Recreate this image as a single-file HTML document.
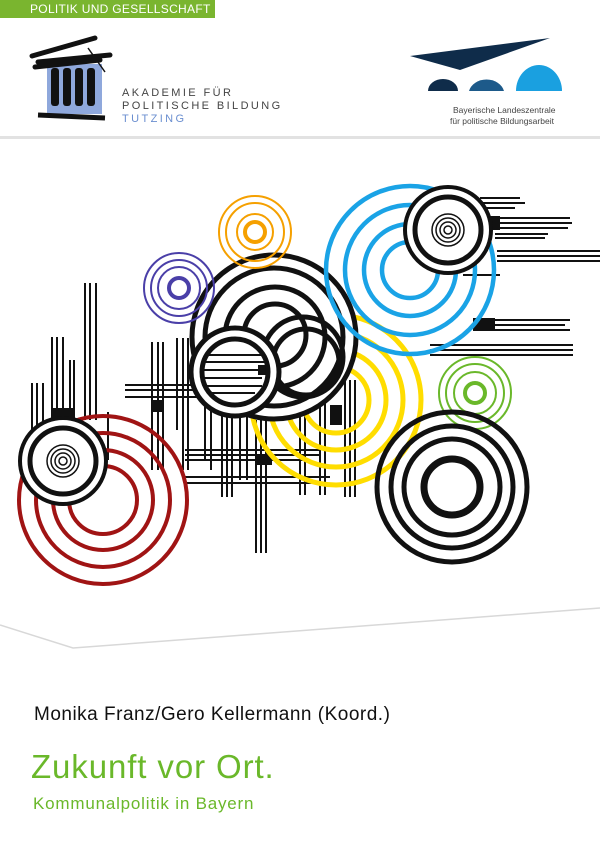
<!DOCTYPE html>
<html><head><meta charset="utf-8"><style>
html,body{margin:0;padding:0;background:#fff}
body{width:600px;height:860px;position:relative;overflow:hidden;font-family:"Liberation Sans",sans-serif}
.t{position:absolute;white-space:nowrap}
</style></head><body>
<div style="position:absolute;left:0;top:0;width:215px;height:18px;background:#7ab52f"></div>
<div class="t" style="left:30px;top:2px;font-size:12px;color:#fff;letter-spacing:0.3px">POLITIK UND GESELLSCHAFT</div>
<div style="position:absolute;left:0;top:136px;width:600px;height:3px;background:#e2e2e2"></div>
<svg width="600" height="860" style="position:absolute;left:0;top:0">
<rect x="47" y="64" width="55" height="50" fill="#8fa8dc"/>
<path d="M32 56 L95 38 M38 62 L110 55 M35 67 L100 60" stroke="#111" stroke-width="5" stroke-linecap="round"/>
<line x1="88" y1="48" x2="105" y2="72" stroke="#111" stroke-width="1.5"/>
<rect x="51" y="68" width="8" height="38" rx="3" fill="#111"/>
<rect x="63" y="68" width="8" height="38" rx="3" fill="#111"/>
<rect x="75" y="68" width="8" height="38" rx="3" fill="#111"/>
<rect x="87" y="68" width="8" height="38" rx="3" fill="#111"/>
<path d="M38 115 L105 118" stroke="#111" stroke-width="5"/>
<text x="122" y="96" font-size="11" fill="#444" letter-spacing="2.4" font-family="Liberation Sans">AKADEMIE FÜR</text>
<text x="122" y="109" font-size="11" fill="#444" letter-spacing="2.4" font-family="Liberation Sans">POLITISCHE BILDUNG</text>
<text x="122" y="122" font-size="11" fill="#6b8fd0" letter-spacing="2.4" font-family="Liberation Sans">TUTZING</text>
<polygon points="410,56 550,38 460,70" fill="#0f2c4a"/>
<path d="M428 91 A15 12 0 0 1 458 91 Z" fill="#0f2c4a"/>
<path d="M469 91 A18 15 0 0 1 504 91 Z" fill="#1d5a8a"/>
<path d="M516 91 A23 26 0 0 1 562 91 Z" fill="#1aa0e0"/>
<text x="453" y="113" font-size="8.5" fill="#444" font-family="Liberation Sans">Bayerische Landeszentrale</text>
<text x="450" y="124" font-size="8.5" fill="#444" font-family="Liberation Sans">für politische Bildungsarbeit</text>

<g stroke="#111" stroke-width="2">
<path d="M32 383V440M37 383V440M43 383V440M52 337V420M57 337V420M63 337V420M70 360V420M74 360V420M85 283V420M90 283V420M96 283V420M108 412V460"/>
<path d="M152 342V470M158 342V470M163 342V470M177 338V430M183 338V470M188 338V470M205 340V460M211 340V470"/>
<path d="M222 400V497M227 400V497M232 400V497M240 400V480M247 400V480M256 420V553M261 420V553M266 420V553M300 380V495M305 380V495M320 390V495M325 390V495M345 380V497M350 380V497M355 380V497"/>
<path d="M125 385H330M125 390H330M125 397H330M185 450H320M185 455H320M185 460H310M185 477H330M185 483H320"/>
<path d="M480 198H520M480 203H525M480 208H515M490 218H570M490 223H572M490 228H568M495 234H548M495 238H545M497 251H600M497 256H600M497 261H600M463 275H500M473 320H570M473 325H565M473 330H570M430 345H573M430 350H573M430 355H573"/>
</g>
<g fill="#111">
<rect x="152" y="400" width="12" height="12"/><rect x="205" y="390" width="10" height="15"/>
<rect x="52" y="408" width="22" height="12"/><rect x="473" y="318" width="22" height="13"/>
<rect x="490" y="216" width="10" height="14"/><rect x="256" y="455" width="16" height="10"/>
<rect x="330" y="405" width="12" height="20"/>
</g>
<g fill="none">
<g stroke="#ffdd00" stroke-width="5"><circle cx="336" cy="400" r="85"/><circle cx="336" cy="400" r="67"/><circle cx="336" cy="400" r="50"/><circle cx="336" cy="400" r="33"/></g>
<g stroke="#111" stroke-width="5">
<circle cx="274" cy="337" r="82" fill="#fff"/><circle cx="274" cy="337" r="69"/><circle cx="275" cy="337" r="50"/><circle cx="275" cy="335" r="31"/><circle cx="303" cy="357" r="40"/><circle cx="306" cy="362" r="33"/></g>
<circle cx="235" cy="372" r="44" fill="#fff" stroke="#111" stroke-width="5"/>
<g stroke="#111" stroke-width="2"><path d="M205 355H262M203 362H268M202 370H268M202 378H262M205 386H262M210 393H255"/></g>
<rect x="258" y="365" width="10" height="10" fill="#111"/>
<circle cx="235" cy="372" r="33" stroke="#111" stroke-width="5"/>
<g stroke="#1aa3e6" stroke-width="4.5"><circle cx="410" cy="270" r="84"/><circle cx="410" cy="270" r="65"/><circle cx="410" cy="270" r="46"/><circle cx="410" cy="270" r="28"/></g>
<g stroke="#a01414" stroke-width="4"><circle cx="103" cy="500" r="84"/><circle cx="103" cy="500" r="67"/><circle cx="103" cy="500" r="50"/><circle cx="103" cy="500" r="34"/></g>
<g stroke="#4a3fa8" stroke-width="2"><circle cx="179" cy="288" r="35"/><circle cx="179" cy="288" r="28"/><circle cx="179" cy="288" r="21"/><circle cx="179" cy="288" r="10" stroke-width="4"/></g>
<g stroke="#f5a000" stroke-width="2"><circle cx="255" cy="232" r="36"/><circle cx="255" cy="232" r="29"/><circle cx="255" cy="232" r="18"/><circle cx="255" cy="232" r="10" stroke-width="4"/></g>
<g stroke="#6ab82a" stroke-width="2"><circle cx="475" cy="393" r="36"/><circle cx="475" cy="393" r="29"/><circle cx="475" cy="393" r="21"/><circle cx="475" cy="393" r="10" stroke-width="4"/></g>
<g stroke="#111" stroke-width="5"><circle cx="452" cy="487" r="75"/><circle cx="452" cy="487" r="61"/><circle cx="452" cy="487" r="48"/><circle cx="452" cy="487" r="28" stroke-width="7"/></g>
<circle cx="63" cy="461" r="43" fill="#fff" stroke="#111" stroke-width="4"/>
<g stroke="#111" stroke-width="5"><circle cx="63" cy="461" r="33"/></g>
<g stroke="#111" stroke-width="1.5"><circle cx="63" cy="461" r="16"/><circle cx="63" cy="461" r="12"/><circle cx="63" cy="461" r="8"/><circle cx="63" cy="461" r="4"/></g>
<circle cx="448" cy="230" r="43" fill="#fff" stroke="#111" stroke-width="4"/>
<g stroke="#111" stroke-width="5"><circle cx="448" cy="230" r="33"/></g>
<g stroke="#111" stroke-width="1.5"><circle cx="448" cy="230" r="16"/><circle cx="448" cy="230" r="12"/><circle cx="448" cy="230" r="8"/><circle cx="448" cy="230" r="4"/></g>
</g>
<polyline points="0,625 73,648 600,608" fill="none" stroke="#d8d8d8" stroke-width="1.5"/>
</svg>
<div class="t" style="left:34px;top:704px;font-size:19px;color:#111;letter-spacing:0.5px">Monika Franz/Gero Kellermann (Koord.)</div>
<div class="t" style="left:31px;top:748px;font-size:33px;color:#6ab82a;letter-spacing:0.9px">Zukunft vor Ort.</div>
<div class="t" style="left:33px;top:794px;font-size:17px;color:#6ab82a;letter-spacing:0.8px">Kommunalpolitik in Bayern</div>
</body></html>
